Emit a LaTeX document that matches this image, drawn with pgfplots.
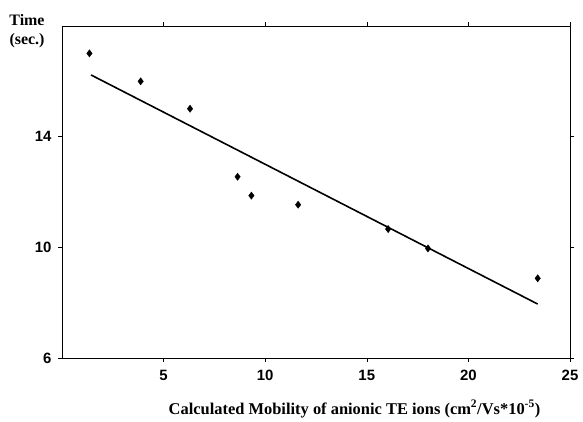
\documentclass[border=0pt]{standalone}
\usepackage{fontspec}
\setmainfont{Liberation Serif}
\newfontfamily\arial{Liberation Sans}
\usepackage{pgfplots}
\pgfplotsset{compat=1.18}
\begin{document}
\begin{tikzpicture}[x=1bp,y=1bp]
\begin{axis}[
  scale only axis,
  width=508bp, height=332bp,
  at={(0,0)}, anchor=south west,
  xmin=0, xmax=25, ymin=6, ymax=18,
  xtick={5,10,15,20,25},
  ytick={6,10,14},
  tick align=outside,
  major tick length=4bp,
  tick style={black, line width=0.5pt},
  axis line style={black, line width=0.7pt},
  /pgf/number format/assume math mode=true,
  tick label style={font=\arial\bfseries\fontsize{15}{15}\selectfont},
  xticklabel style={yshift=-5bp},
  yticklabel style={xshift=-3bp},
  clip=false,
]
\addplot[only marks, mark=diamond*, mark size=3.6bp, black] coordinates {
  (1.35,17.01) (3.87,16.00) (6.30,15.01) (8.64,12.55) (9.32,11.87)
  (11.62,11.54) (16.05,10.66) (18.01,9.96) (23.41,8.88)
};
\addplot[black, line width=1.6pt] coordinates {
  (1.43,16.23) (23.41,7.95)
};
\end{axis}
\node[font=\bfseries\fontsize{16}{16}\selectfont] at (-35bp,338bp) {Time};
\node[font=\bfseries\fontsize{16}{16}\selectfont] at (-35bp,317bp) {(sec.)};
\node[font=\bfseries\fontsize{16.5}{16.5}\selectfont] at (292.5bp,-51bp) {Calculated Mobility of anionic TE ions (cm\textsuperscript{2}/Vs*10\textsuperscript{-5})};
\path[use as bounding box] (-62bp,-64bp) rectangle (521bp,358bp);
\end{tikzpicture}
\end{document}
